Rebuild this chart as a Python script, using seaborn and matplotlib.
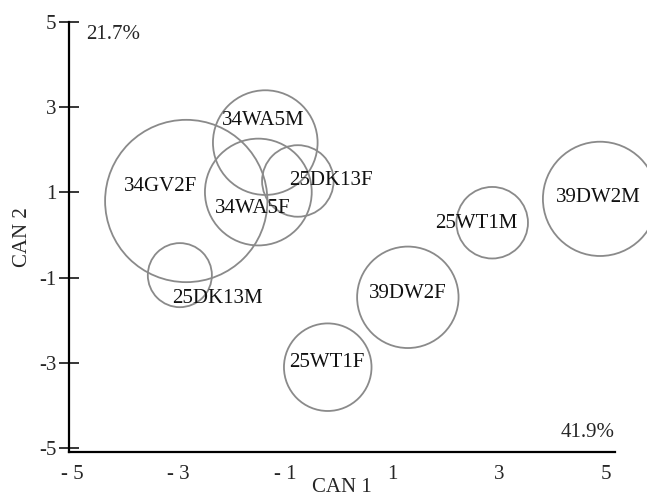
import numpy as np
import pandas as pd
import seaborn as sns
import matplotlib.pyplot as plt

# canonical scores (group centroids) and circle radii in CAN 1 units
groups = ['34GV2F', '34WA5M', '34WA5F', '25DK13F', '25DK13M',
          '25WT1M', '39DW2M', '39DW2F', '25WT1F']
can1 = [-2.86, -1.38, -1.51, -0.77, -2.98, 2.87, 4.89, 1.29, -0.21]
can2 = [0.80, 2.17, 1.01, 1.27, -0.94, 0.29, 0.85, -1.46, -3.10]
radius = [1.52, 0.98, 1.00, 0.67, 0.60, 0.67, 1.07, 0.95, 0.82]

# where each group name is written
label_x = [-3.35, -1.42, -1.61, -0.15, -2.28, 2.58, 4.85, 1.29, -0.22]
label_y = [1.15, 2.68, 0.63, 1.29, -1.48, 0.28, 0.89, -1.38, -2.98]

ticks = [-5, -3, -1, 1, 3, 5]
xtick_labels = ['- 5', '- 3', '- 1', '1', '3', '5']
ytick_labels = ['-5', '-3', '-1', '1', '3', '5']
var_can1 = '41.9%'
var_can2 = '21.7%'

df = pd.DataFrame({'group': groups, 'can1': can1, 'can2': can2,
                   'radius': radius})

sns.set_style('white')
plt.rcParams['font.family'] = ['Liberation Serif', 'DejaVu Serif']

fig = plt.figure(figsize=(6.47, 4.98), dpi=100)
ax = fig.add_axes([69 / 647, 1 - 452 / 498, 546 / 647, 430 / 498])
ax.set_xlim(-5.056, 5.17)
ax.set_ylim(-5.09, 5.0)

# radius (CAN 1 units) -> marker size in points^2
px_per_unit = (ax.transData.transform((1, 0)) - ax.transData.transform((0, 0)))[0]
pt_per_px = 72 / fig.dpi
sizes = (2 * df['radius'] * px_per_unit * pt_per_px) ** 2

sns.scatterplot(data=df, x='can1', y='can2', s=sizes, marker='o',
                facecolor='none', edgecolor='#8a8a8a', linewidth=1.3,
                clip_on=False, legend=False, ax=ax)

for name, lx, ly in zip(groups, label_x, label_y):
    ax.text(lx, ly, name, ha='center', va='center', fontsize=15, color='#111111')

ax.set_xticks(ticks)
ax.set_xticklabels(xtick_labels)
ax.set_yticks(ticks)
ax.set_yticklabels(ytick_labels)
ax.tick_params(axis='x', length=0, pad=9, labelsize=15)
ax.tick_params(axis='y', direction='inout', length=14, width=1.3,
               pad=2, labelsize=15, left=True)

for side in ['top', 'right']:
    ax.spines[side].set_visible(False)
for side in ['left', 'bottom']:
    ax.spines[side].set_linewidth(1.6)
    ax.spines[side].set_color('black')

ax.set_xlabel('CAN 1', fontsize=15, labelpad=-4)
ax.set_ylabel('CAN 2', fontsize=15, labelpad=5)

ax.text(0.95, 0.045, var_can1, transform=ax.transAxes, ha='center',
        va='center', fontsize=15)
ax.text(0.08, 0.97, var_can2, transform=ax.transAxes, ha='center',
        va='center', fontsize=15)

fig.savefig('out.png', dpi=100)
